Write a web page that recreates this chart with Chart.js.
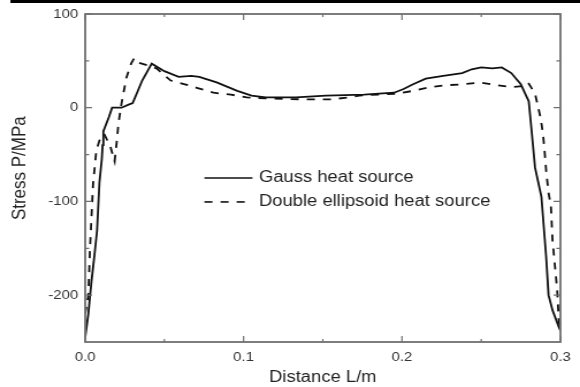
<!DOCTYPE html>
<html>
<head>
<meta charset="utf-8">
<script src="https://cdn.jsdelivr.net/npm/chart.js@4.4.0/dist/chart.umd.min.js"></script>
<style>
  html, body { margin: 0; padding: 0; background: #fff; overflow: hidden; }
  /* the source figure is stretched sideways, so draw narrower and widen it */
  #wrap { width: 504px; height: 387px; transform: scaleX(1.1508); transform-origin: 0 0; }
</style>
</head>
<body>
<div id="wrap"><canvas id="chart"></canvas></div>
<script>
const distGauss = [0, 0.002, 0.004, 0.006, 0.0075, 0.009, 0.0105, 0.011, 0.0115, 0.015, 0.017, 0.023, 0.027, 0.03, 0.036, 0.042,
  0.05, 0.059, 0.067, 0.072, 0.083, 0.096, 0.105, 0.114, 0.133, 0.152, 0.176, 0.195, 0.201, 0.207, 0.215, 0.226,
  0.238, 0.244, 0.25, 0.257, 0.263, 0.269, 0.275, 0.28, 0.282, 0.284, 0.288, 0.291, 0.2925, 0.295, 0.299, 0.3];
const stressGauss = [-245, -220, -185, -155, -131, -80, -55, -40, -25, -10, 0, 0, 3, 5, 29, 47,
  39, 33, 34, 33, 27, 18, 13, 11, 11, 13, 14, 16, 20, 25, 31, 34,
  37, 41, 43, 42, 43, 37, 25, 7, -28, -64, -95, -159, -200, -216, -234, -238];

const distDouble = [0, 0.002, 0.003, 0.005, 0.007, 0.009, 0.012, 0.016, 0.0186, 0.02, 0.021, 0.023, 0.026, 0.029, 0.031, 0.034,
  0.04, 0.045, 0.054, 0.063, 0.071, 0.081, 0.092, 0.102, 0.114, 0.135, 0.156, 0.166, 0.173, 0.197, 0.207, 0.218,
  0.228, 0.239, 0.249, 0.26, 0.269, 0.276, 0.2795, 0.284, 0.2875, 0.289, 0.29, 0.291, 0.2925, 0.294, 0.295, 0.298, 0.299, 0.3];
const stressDouble = [-220, -200, -152, -81, -46, -35, -28, -42, -57, -35, -17, 5, 32, 47, 53, 48,
  45, 42, 29, 25, 21, 16, 14, 11, 10, 9, 9, 11, 13, 15, 18, 22,
  24, 25, 27, 24, 22, 23, 27, 15, -11, -28, -46, -67, -91, -105, -141, -195, -228, -234];

const seriesNames = ['Gauss heat source', 'Double ellipsoid heat source'];
const xTitle = 'Distance L/m';
const yTitle = 'Stress P/MPa';
const xTicks = [0, 0.1, 0.2, 0.3];
const xMinor = [0.05, 0.15, 0.25];
const yTicks = [-200, -100, 0, 100];
const yMinor = [-150, -50, 50];

const FONT = '"Liberation Sans", Arial, Helvetica, sans-serif';

function toPoints(xs, ys) {
    return xs.map((x, i) => ({ x: x, y: ys[i] }));
}

// box round the plot with inward ticks on all four sides
const frame = {
    id: 'frame',
    afterDatasetsDraw(chart) {
        const { ctx, chartArea: a, scales } = chart;
        ctx.save();
        ctx.strokeStyle = '#6f6f6f';
        ctx.lineWidth = 1.8;
        ctx.strokeRect(a.left, a.top, a.right - a.left, a.bottom - a.top);
        ctx.lineWidth = 1.2;
        ctx.beginPath();
        const xt = (vals, len) => vals.forEach(v => {
            const px = scales.x.getPixelForValue(v);
            ctx.moveTo(px, a.bottom); ctx.lineTo(px, a.bottom - len);
            ctx.moveTo(px, a.top); ctx.lineTo(px, a.top + len);
        });
        const yt = (vals, len) => vals.forEach(v => {
            const py = scales.y.getPixelForValue(v);
            ctx.moveTo(a.left, py); ctx.lineTo(a.left + len, py);
            ctx.moveTo(a.right, py); ctx.lineTo(a.right - len, py);
        });
        xt(xTicks, 6); xt(xMinor, 3);
        yt(yTicks, 6); yt(yMinor, 3.5);
        ctx.stroke();
        // dark rule along the top edge of the scanned figure
        ctx.fillStyle = '#000';
        ctx.fillRect(9, 0, chart.width, 3);

        // y title sits a little above the middle of the axis in the source
        ctx.fillStyle = '#222';
        ctx.font = '17px ' + FONT;
        ctx.textAlign = 'center';
        ctx.textBaseline = 'middle';
        ctx.translate(17, a.top + (a.bottom - a.top) * 0.47);
        ctx.rotate(-Math.PI / 2);
        ctx.fillText(yTitle, 0, 0);
        ctx.restore();
    }
};

const legendBox = {
    id: 'legendBox',
    afterDatasetsDraw(chart) {
        const { ctx, chartArea: a } = chart;
        const w = a.right - a.left, h = a.bottom - a.top;
        const x0 = a.left + w * 0.251, x1 = a.left + w * 0.352, tx = a.left + w * 0.356;
        chart.data.datasets.forEach((ds, i) => {
            const y = a.top + h * (0.5 + i * 0.073);
            ctx.save();
            ctx.strokeStyle = '#111';
            ctx.lineWidth = 1.6;
            ctx.setLineDash(ds.borderDash || []);
            ctx.beginPath();
            ctx.moveTo(x0, y); ctx.lineTo(x1, y);
            ctx.stroke();
            ctx.setLineDash([]);
            ctx.fillStyle = '#222';
            ctx.font = '16px ' + FONT;
            ctx.textBaseline = 'middle';
            ctx.fillText(ds.label, tx + 4, y);
            ctx.restore();
        });
    }
};

const ctx = document.getElementById('chart').getContext('2d');
new Chart(ctx, {
    type: 'line',
    data: {
        datasets: [{
            label: seriesNames[0],
            data: toPoints(distGauss, stressGauss),
            borderColor: '#111',
            borderWidth: 1.8,
            pointRadius: 0,
            tension: 0,
            fill: false
        }, {
            label: seriesNames[1],
            data: toPoints(distDouble, stressDouble),
            borderColor: '#111',
            borderWidth: 1.8,
            borderDash: [7, 7],
            pointRadius: 0,
            tension: 0,
            fill: false
        }]
    },
    options: {
        responsive: true,
        maintainAspectRatio: false,
        animation: false,
        layout: { padding: { top: 14, right: 8, left: 0, bottom: 0 } },
        plugins: {
            legend: { display: false },
            tooltip: { enabled: false }
        },
        scales: {
            x: {
                type: 'linear',
                min: 0,
                max: 0.3,
                afterBuildTicks: s => { s.ticks = xTicks.map(v => ({ value: v })); },
                afterFit: s => { s.height = 45; },
                grid: { display: false, drawTicks: false },
                border: { display: false },
                ticks: {
                    padding: 8,
                    maxRotation: 0,
                    color: '#333',
                    font: { family: FONT, size: 13 },
                    callback: v => v.toFixed(1)
                },
                title: {
                    display: true,
                    text: xTitle,
                    color: '#222',
                    font: { family: FONT, size: 16 },
                    padding: { top: 4, bottom: 0 }
                }
            },
            y: {
                min: -250,
                max: 100,
                afterBuildTicks: s => { s.ticks = yTicks.map(v => ({ value: v })); },
                afterFit: s => { s.width = 74; },
                grid: { display: false, drawTicks: false },
                border: { display: false },
                ticks: {
                    padding: 6,
                    color: '#333',
                    font: { family: FONT, size: 13 }
                },
                title: { display: false }
            }
        }
    },
    plugins: [frame, legendBox]
});
</script>
</body>
</html>
